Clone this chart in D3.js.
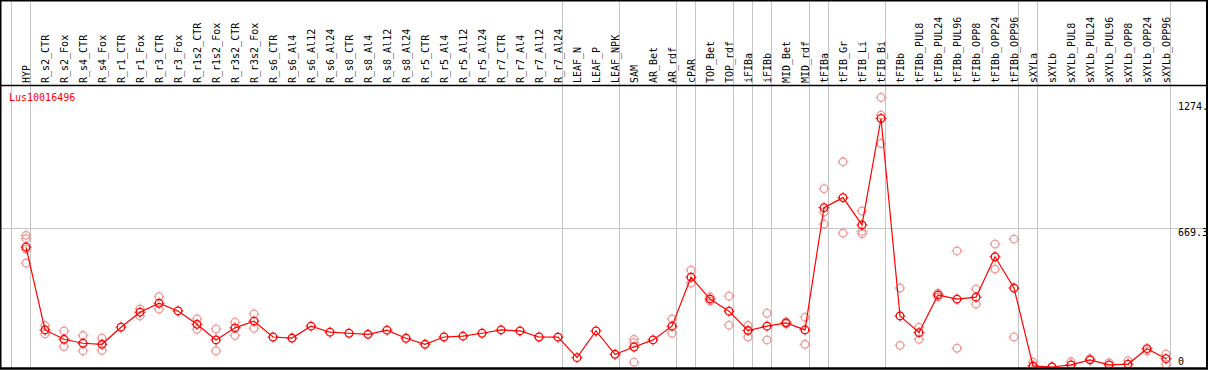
<!DOCTYPE html>
<html><head><meta charset="utf-8">
<script src="https://cdn.jsdelivr.net/npm/d3@7"></script>
<style>html,body{margin:0;padding:0;background:#fff;overflow:hidden}</style>
</head><body>
<script>
const categories = ["HYP","R_s2_CTR","R_s2_Fox","R_s4_CTR","R_s4_Fox","R_r1_CTR","R_r1_Fox","R_r3_CTR","R_r3_Fox","R_r1s2_CTR","R_r1s2_Fox","R_r3s2_CTR","R_r3s2_Fox","R_s6_CTR","R_s6_Al4","R_s6_Al12","R_s6_Al24","R_s8_CTR","R_s8_Al4","R_s8_Al12","R_s8_Al24","R_r5_CTR","R_r5_Al4","R_r5_Al12","R_r5_Al24","R_r7_CTR","R_r7_Al4","R_r7_Al12","R_r7_Al24","LEAF_N","LEAF_P","LEAF_NPK","SAM","AR_Bet","AR_rdf","cPAR","TOP_Bet","TOP_rdf","iFIBa","iFIBb","MID_Bet","MID_rdf","tFIBa","tFIB_Gr","tFIB_Li","tFIB_Bi","tFIBb","tFIBb_PUL8","tFIBb_PUL24","tFIBb_PUL96","tFIBb_OPP8","tFIBb_OPP24","tFIBb_OPP96","sXYLa","sXYLb","sXYLb_PUL8","sXYLb_PUL24","sXYLb_PUL96","sXYLb_OPP8","sXYLb_OPP24","sXYLb_OPP96"];
const means = [576,178,133,114,109,191,263,306,269,205,130,188,220,144,139,196,167,162,157,177,138,109,144,148,162,178,173,144,143,45,173,61,96,130,196,431,326,268,175,196,212,178,765,813,682,1193,245,165,346,326,335,529,379,5,0,10,34,10,14,88,40];
const replicates = [[632,616,566,499],[199,159],[173,98],[151,77],[138,80],[],[279,245],[338,278],[],[231,181],[183,77],[215,151],[255,186],[],[],[],[],[],[],[],[],[],[],[],[],[],[],[],[],[],[],[],[133,117,23],[],[231,162],[465,403],[316,337],[340,201],[199,144],[258,130],[207,216],[239,109],[856,744,686],[985,643],[749,651,640],[1294,1209,1073],[379,104],[191,133],[354,337],[557,90],[374,302],[590,470],[614,144],[23,0],[0],[25],[40],[21],[30],[77],[62,14]];
const groupBoundaries = [-1,0,28,31,34,35,37,38,39,41,42,45,52,53,60];
const yTickValues = [1274.6, 669.3, 0];
const yTickLabels = ["1274.", "669.3", "0"];
const geneName = "Lus10016496";

const W = 1209, H = 370;
const svg = d3.select("body").append("svg").attr("width", W).attr("height", H);
svg.append("rect").attr("width", W).attr("height", H).attr("fill", "#fff");

const x = d3.scalePoint().domain(categories).range([26, 26 + 19 * (categories.length - 1)]);
const y = d3.scaleLinear().domain([0, 1274.6]).range([367, 101.5]);
const font = "'DejaVu Sans Mono', 'Liberation Mono', monospace";

// group separators
svg.selectAll("line.vsep").data(groupBoundaries).enter().append("line")
  .attr("x1", d => x(categories[0]) + 19 * d + 4.5)
  .attr("x2", d => x(categories[0]) + 19 * d + 4.5)
  .attr("y1", 0).attr("y2", 368)
  .attr("stroke", "#c4c4c4").attr("stroke-width", 1);

// horizontal reference line
svg.append("line").attr("x1", 0).attr("x2", 1207)
  .attr("y1", Math.round(y(669.3)) + 0.5).attr("y2", Math.round(y(669.3)) + 0.5)
  .attr("stroke", "#c4c4c4").attr("stroke-width", 1);

// frame
svg.append("rect").attr("x", 0.5).attr("y", 0.5).attr("width", 1206.5).attr("height", 368)
  .attr("fill", "none").attr("stroke", "#000").attr("stroke-width", 2);
svg.append("line").attr("x1", 0).attr("x2", 1207).attr("y1", 85.5).attr("y2", 85.5)
  .attr("stroke", "#000").attr("stroke-width", 1.5);

// header labels
svg.selectAll("text.cat").data(categories).enter().append("text")
  .attr("transform", d => `translate(${x(d) + 3.5},83) rotate(-90)`)
  .attr("font-family", font).attr("font-size", 10).attr("fill", "#000")
  .text(d => d);

// right axis labels
svg.selectAll("text.tick").data(yTickValues).enter().append("text")
  .attr("x", 1178).attr("y", (d, i) => i === 2 ? 365 : y(d) + 8.5)
  .attr("font-family", font).attr("font-size", 10).attr("fill", "#000")
  .text((d, i) => yTickLabels[i]);

svg.append("text").attr("x", 9).attr("y", 101).attr("font-family", font)
  .attr("font-size", 10).attr("fill", "#ff0000").text(geneName);

function marker(g, cx, cy, color) {
  g.append("circle").attr("cx", cx).attr("cy", cy).attr("r", 3.8)
    .attr("fill", "none").attr("stroke", color).attr("stroke-width", 1.3);
  [[0,-1],[0,1],[-1,0],[1,0]].forEach(([dx,dy]) => {
    g.append("line").attr("x1", cx + dx*4).attr("y1", cy + dy*4)
      .attr("x2", cx + dx*5.5).attr("y2", cy + dy*5.5)
      .attr("stroke", color).attr("stroke-width", 1);
  });
}

const clip = svg.append("clipPath").attr("id", "pc").append("rect")
  .attr("x", 1).attr("y", 86).attr("width", 1205).attr("height", 282);
const plot = svg.append("g").attr("clip-path", "url(#pc)");

// replicates
const repG = plot.append("g");
categories.forEach((c, i) => {
  replicates[i].forEach(v => marker(repG, x(c), y(v), "#ef9a9a"));
});

// mean line
plot.append("path").datum(means)
  .attr("d", d3.line().x((d, i) => x(categories[i])).y(d => y(d)))
  .attr("fill", "none").attr("stroke", "#ff0000").attr("stroke-width", 1.2);

const mG = plot.append("g");
means.forEach((v, i) => marker(mG, x(categories[i]), y(v), "#ff0000"));

// redraw bottom border on top
svg.append("line").attr("x1", 0).attr("x2", 1208).attr("y1", 368.5).attr("y2", 368.5)
  .attr("stroke", "#000").attr("stroke-width", 2);
</script>
</body></html>
